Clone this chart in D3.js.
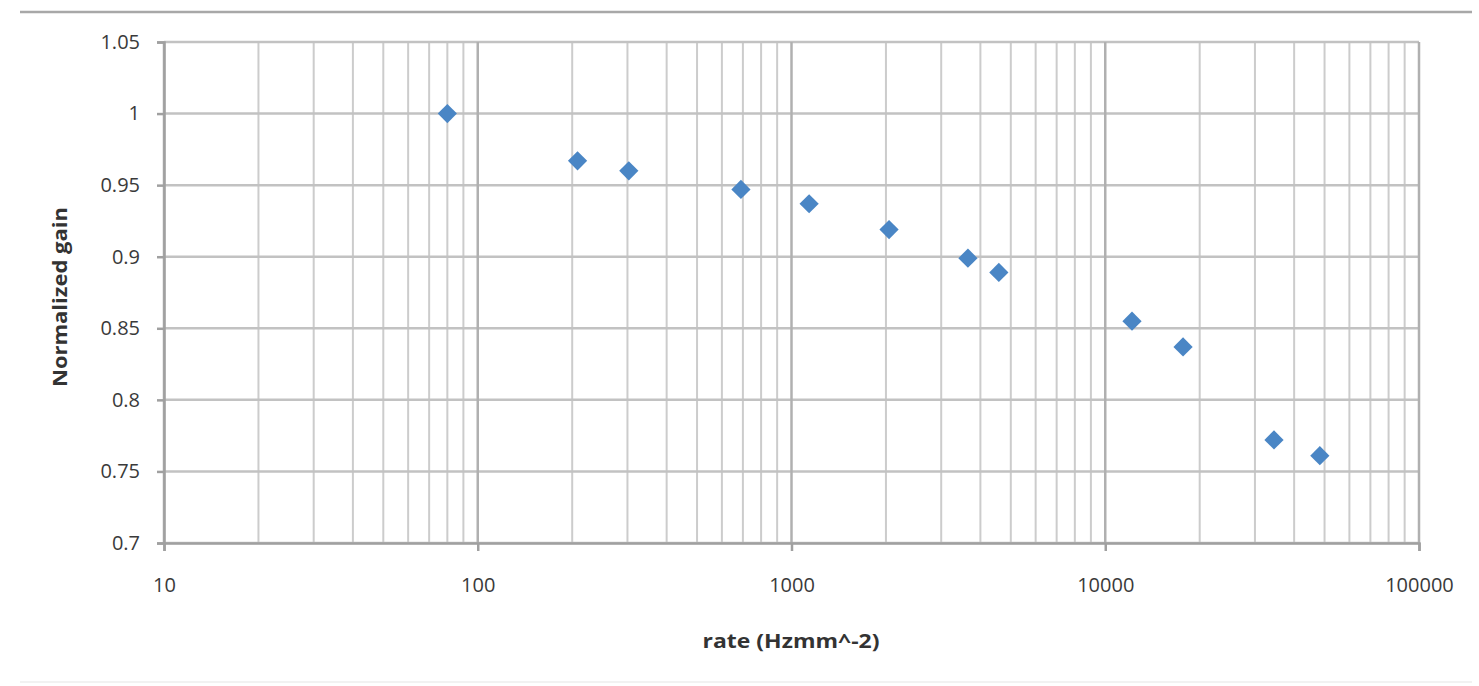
<!DOCTYPE html>
<html>
<head>
<meta charset="utf-8">
<script src="https://cdn.jsdelivr.net/npm/d3@7"></script>
<style>
  body { margin: 0; background: #fff; }
  text { font-family: "Open Sans", "DejaVu Sans", sans-serif; fill: #404040; }
</style>
</head>
<body>
<div id="chart"></div>
<script>
// data
var rate = [80, 208, 303, 690, 1138, 2046, 3650, 4580, 12170, 17700, 34500, 48300];
var gain = [1.0, 0.967, 0.96, 0.947, 0.937, 0.919, 0.899, 0.889, 0.855, 0.837, 0.772, 0.761];
var yTicks = [0.7, 0.75, 0.8, 0.85, 0.9, 0.95, 1, 1.05];
var xTicks = [10, 100, 1000, 10000, 100000];
var xTitle = "rate (Hzmm^-2)";
var yTitle = "Normalized gain";

var W = 1479, H = 686;
// plot box (window.top is reserved, so prefixed names)
var plotL = 164, plotR = 1419, plotT = 42, plotB = 543;

var svg = d3.select("#chart").append("svg")
  .attr("width", W)
  .attr("height", H);

// frame lines of the pasted picture
svg.append("line")
  .attr("x1", 20).attr("x2", 1472).attr("y1", 12).attr("y2", 12)
  .style("stroke", "#a8a8a8").style("stroke-width", 2.5);
svg.append("line")
  .attr("x1", 20).attr("x2", 1472).attr("y1", 682).attr("y2", 682)
  .style("stroke", "#f2f2f2").style("stroke-width", 2);

var x = d3.scaleLog().domain([10, 100000]).range([plotL, plotR]);
var y = d3.scaleLinear().domain([0.7, 1.05]).range([plotB, plotT]);

// minor vertical grid
var minor = x.ticks().filter(function(d) { return xTicks.indexOf(d) < 0; });
svg.append("g").selectAll("line")
  .data(minor)
  .enter().append("line")
  .attr("x1", function(d) { return x(d); })
  .attr("x2", function(d) { return x(d); })
  .attr("y1", plotT).attr("y2", plotB)
  .style("stroke", "#cccccc").style("stroke-width", 2);

// horizontal grid
svg.append("g").selectAll("line")
  .data(yTicks)
  .enter().append("line")
  .attr("x1", plotL).attr("x2", plotR)
  .attr("y1", function(d) { return y(d); })
  .attr("y2", function(d) { return y(d); })
  .style("stroke", "#c2c2c2").style("stroke-width", 2.5);

// major vertical grid
svg.append("g").selectAll("line")
  .data(xTicks)
  .enter().append("line")
  .attr("x1", function(d) { return x(d); })
  .attr("x2", function(d) { return x(d); })
  .attr("y1", plotT).attr("y2", plotB)
  .style("stroke", "#b0b0b0").style("stroke-width", 2.5);

// axes
var xAxis = svg.append("g")
  .attr("transform", "translate(0," + plotB + ")")
  .call(d3.axisBottom(x).tickValues(xTicks).tickSize(8).tickPadding(27)
    .tickFormat(d3.format("d")));
var yAxis = svg.append("g")
  .attr("transform", "translate(" + plotL + ",0)")
  .call(d3.axisLeft(y).tickValues(yTicks).tickSize(7).tickPadding(17)
    .tickFormat(function(d) { return String(+d.toFixed(2)); }));

[xAxis, yAxis].forEach(function(a) {
  a.select(".domain").style("stroke", "#a0a0a0").style("stroke-width", 2.5);
  a.selectAll(".tick line").style("stroke", "#a0a0a0").style("stroke-width", 2.5);
  a.selectAll("text").style("font-size", "20px").style("fill", "#3a3a3a")
    .style("font-family", "'Open Sans', sans-serif");
});

// axis titles
svg.append("text")
  .attr("x", 791).attr("y", 648)
  .attr("text-anchor", "middle")
  .attr("textLength", 177).attr("lengthAdjust", "spacingAndGlyphs")
  .style("font-size", "19px").style("font-weight", "bold").style("fill", "#333")
  .text(xTitle);
svg.append("text")
  .attr("transform", "translate(67,297) rotate(-90)")
  .attr("text-anchor", "middle")
  .attr("textLength", 180).attr("lengthAdjust", "spacingAndGlyphs")
  .style("font-size", "19px").style("font-weight", "bold").style("fill", "#333")
  .text(yTitle);

// points
svg.append("g").selectAll("path")
  .data(rate)
  .enter().append("path")
  .attr("d", d3.symbol().type(d3.symbolSquare).size(185))
  .attr("transform", function(d, i) {
    return "translate(" + x(d) + "," + y(gain[i]) + ") rotate(45)";
  })
  .style("fill", "#4a86c5");
</script>
</body>
</html>
